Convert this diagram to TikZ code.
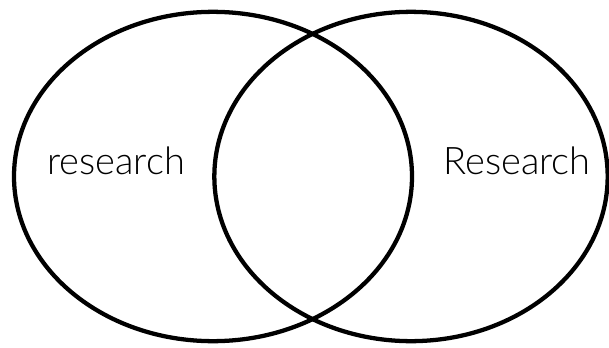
\documentclass[tikz,border=0pt]{standalone}
\usepackage{fontspec}
\setmainfont{Lato}[UprightFont=* Light]
\usetikzlibrary{shapes}

\begin{document}
\begin{tikzpicture}[x=0.75pt,y=0.75pt]

\useasboundingbox (0,0) rectangle (609,347);

\node[ellipse,draw,line width=3.2pt,inner sep=0pt,minimum width=298.5pt,minimum height=247pt] (l) at (213,170.5) {};

\node[ellipse,draw,line width=3.2pt,inner sep=0pt,minimum width=295pt,minimum height=247pt] (r) at (411,170.5) {};

\node[font=\fontsize{28.5}{30}\selectfont] (lt) at (116,186) {research};
\node[font=\fontsize{28.5}{30}\selectfont] (rt) at (517,186) {Research};

\end{tikzpicture}
\end{document}
